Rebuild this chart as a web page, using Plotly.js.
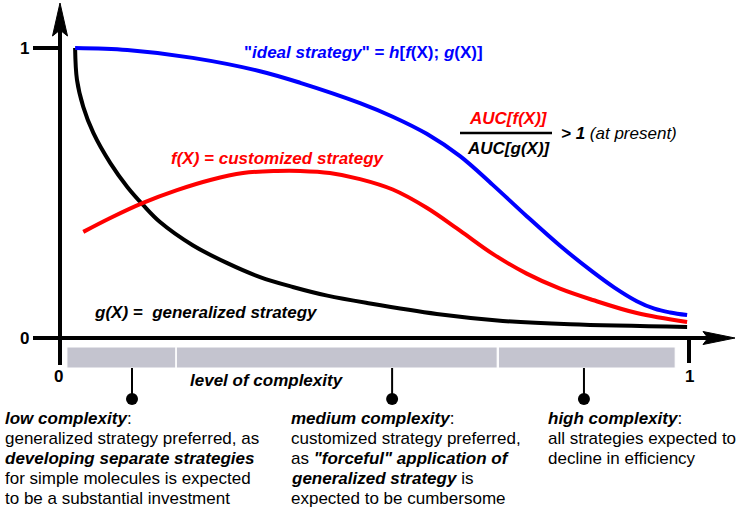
<!DOCTYPE html>
<html>
<head>
<meta charset="utf-8">
<script src="https://cdn.plot.ly/plotly-3.0.1.min.js"></script>
<style>html,body{margin:0;padding:0;background:#fff;}#chart{width:739px;height:515px;}</style>
</head>
<body>
<div id="chart"></div>
<script>
// ---- data (x = level of complexity 0..1, y = efficiency 0..1) ----
var idealX = [0.024, 0.107, 0.211, 0.318, 0.382, 0.477, 0.529, 0.583, 0.636, 0.688, 0.742, 0.795, 0.847, 0.882, 0.917, 0.945, 0.970, 0.997];
var idealY = [1.000, 0.993, 0.966, 0.920, 0.880, 0.810, 0.763, 0.704, 0.627, 0.528, 0.420, 0.318, 0.228, 0.173, 0.127, 0.101, 0.088, 0.079];

var customX = [0.037, 0.080, 0.132, 0.186, 0.239, 0.291, 0.345, 0.382, 0.429, 0.477, 0.529, 0.583, 0.636, 0.688, 0.742, 0.795, 0.847, 0.917, 0.997];
var customY = [0.366, 0.414, 0.466, 0.510, 0.545, 0.569, 0.576, 0.576, 0.569, 0.548, 0.512, 0.449, 0.370, 0.290, 0.222, 0.170, 0.131, 0.086, 0.055];

var generalX = [0.024, 0.027, 0.037, 0.053, 0.080, 0.107, 0.132, 0.159, 0.211, 0.266, 0.318, 0.370, 0.425, 0.493, 0.599, 0.704, 0.811, 0.997];
var generalY = [1.000, 0.890, 0.797, 0.707, 0.603, 0.521, 0.459, 0.400, 0.320, 0.258, 0.210, 0.176, 0.146, 0.119, 0.083, 0.059, 0.047, 0.038];

var regionNames = ['low', 'medium', 'high'];
var regionStart = [0.011, 0.185, 0.697];
var regionEnd   = [0.184, 0.695, 0.978];
var regionMarker = [0.1145, 0.528, 0.833];

var xTickLabels = ['0', '1'];
var yTickLabels = ['0', '1'];

var lowLines = ['<b><i>low complexity</i></b>:',
  'generalized strategy preferred, as',
  '<b><i>developing separate strategies</i></b>',
  'for simple molecules is expected',
  'to be a substantial investment'];
var mediumLines = ['<b><i>medium complexity</i></b>:',
  'customized strategy preferred,',
  'as <b><i>"forceful" application of</i></b>',
  '<b><i>generalized strategy</i></b> is',
  'expected to be cumbersome'];
var highLines = ['<b><i>high complexity</i></b>:',
  'all strategies expected to',
  'decline in efficiency'];

// ---- pixel helpers for layout decorations ----
var X0 = 60, XS = 629, Y0 = 338, YS = 290;
function px(p) { return (p - X0) / XS; }
function py(p) { return (Y0 - p) / YS; }

var FONT = 'Liberation Sans, Arial, sans-serif';
var BLUE = 'rgb(0,0,255)', RED = 'rgb(255,0,0)';
var FS = 17;

var barX = [], barW = [], barH = [];
for (var i = 0; i < regionStart.length; i++) {
  barX.push((regionStart[i] + regionEnd[i]) / 2);
  barW.push(regionEnd[i] - regionStart[i]);
  barH.push(py(347) - py(368));
}

var stemX = [], stemY = [];
for (var j = 0; j < regionMarker.length; j++) {
  stemX.push(regionMarker[j], regionMarker[j], null);
  stemY.push(py(368), py(399), null);
}

var traces = [
  {type: 'bar', x: barX, y: barH, width: barW, base: py(368),
   marker: {color: '#c4c4cf', line: {width: 1, color: '#fff'}}, hoverinfo: 'skip', showlegend: false},
  {type: 'scatter', mode: 'lines', x: stemX, y: stemY,
   line: {color: '#000', width: 2}, hoverinfo: 'skip', showlegend: false},
  {type: 'scatter', mode: 'markers', x: regionMarker, y: regionMarker.map(function(){return py(399);}),
   marker: {color: '#000', size: 12}, hoverinfo: 'skip', showlegend: false},
  {type: 'scatter', mode: 'lines', x: generalX, y: generalY, name: 'g(X)',
   line: {color: '#000', width: 4, shape: 'spline', smoothing: 1}, showlegend: false},
  {type: 'scatter', mode: 'lines', x: customX, y: customY, name: 'f(X)',
   line: {color: RED, width: 4, shape: 'spline', smoothing: 1}, showlegend: false},
  {type: 'scatter', mode: 'lines', x: idealX, y: idealY, name: 'ideal',
   line: {color: BLUE, width: 4, shape: 'spline', smoothing: 1}, showlegend: false}
];

function line(x0, y0, x1, y1, w) {
  return {type: 'line', xref: 'x', yref: 'y', x0: px(x0), y0: py(y0), x1: px(x1), y1: py(y1),
          line: {color: '#000', width: w}, layer: 'above'};
}
function poly(pts) {
  var d = '';
  pts.forEach(function(p, k) { d += (k ? ' L' : 'M') + px(p[0]) + ',' + py(p[1]); });
  return {type: 'path', xref: 'x', yref: 'y', path: d + ' Z', fillcolor: '#000',
          line: {color: '#000', width: 1}, layer: 'above'};
}

var shapes = [
  line(60, 28, 60, 365, 4),       // y axis
  line(33, 338, 708, 338, 4),     // x axis (incl. y tick 0)
  line(33, 48, 60, 48, 4),        // y tick 1
  line(689, 338, 689, 363, 4),    // x tick 1
  poly([[60, 3], [67.5, 36], [60, 30], [52.5, 36]]),
  poly([[735, 338], [703, 344.5], [708, 338], [703, 331.5]]),
  line(460, 133, 552, 133, 2.5)   // fraction bar
];

function ann(text, x, y, opts) {
  var a = {text: text, x: px(x), y: py(y), xref: 'x', yref: 'y', showarrow: false,
           xanchor: 'left', yanchor: 'middle', align: 'left',
           font: {family: FONT, size: FS, color: '#000'}};
  for (var k in opts) {
    if (k === 'font') { for (var f in opts.font) a.font[f] = opts.font[f]; }
    else a[k] = opts[k];
  }
  return a;
}

var annotations = [
  ann('<b>' + yTickLabels[1] + '</b>', 24, 48, {xanchor: 'center'}),
  ann('<b>' + yTickLabels[0] + '</b>', 24, 338, {xanchor: 'center'}),
  ann('<b>' + xTickLabels[0] + '</b>', 58, 376, {xanchor: 'center'}),
  ann('<b>' + xTickLabels[1] + '</b>', 689, 376, {xanchor: 'center'}),
  ann('<b>"<i>ideal strategy</i>" = <i>h</i>[<i>f</i>(X); <i>g</i>(X)]</b>', 242, 52, {font: {color: BLUE}}),
  ann('<b><i>f(X) = customized strategy</i></b>', 169, 158, {font: {color: RED}}),
  ann('<b><i>g(X) =  generalized strategy</i></b>', 92, 312, {}),
  ann('<b><i>AUC[f(X)]</i></b>', 508, 118, {xanchor: 'center', font: {color: RED}}),
  ann('<b><i>AUC[g(X)]</i></b>', 509, 148, {xanchor: 'center'}),
  ann('<b><i>&gt; 1</i></b> <i>(at present)</i>', 559, 133, {}),
  ann('<b><i>level of complexity</i></b>', 267, 380, {xanchor: 'center'})
];
function block(lines, x) {
  lines.forEach(function(t, k) { annotations.push(ann(t, x, 418 + 20 * k, {})); });
}
block(lowLines, 3);
block(mediumLines, 289);
block(highLines, 546);

var layout = {
  width: 739, height: 515,
  margin: {l: 0, r: 0, t: 0, b: 0, pad: 0},
  paper_bgcolor: '#fff', plot_bgcolor: '#fff',
  showlegend: false,
  xaxis: {range: [px(0), px(739)], visible: false, fixedrange: true},
  yaxis: {range: [py(515), py(0)], visible: false, fixedrange: true},
  bargap: 0,
  shapes: shapes,
  annotations: annotations
};

Plotly.newPlot('chart', traces, layout, {staticPlot: true, displayModeBar: false});
</script>
</body>
</html>
